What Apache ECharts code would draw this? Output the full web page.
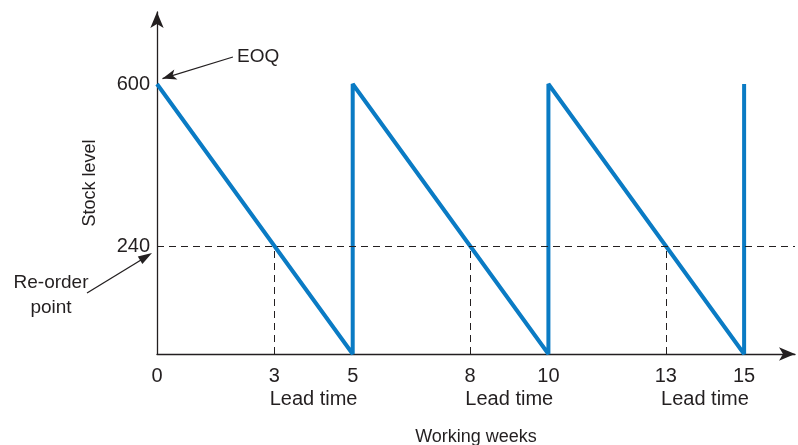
<!DOCTYPE html>
<html>
<head>
<meta charset="utf-8">
<script src="https://cdn.jsdelivr.net/npm/echarts@6/dist/echarts.min.js"></script>
<style>
    html, body { margin: 0; padding: 0; background: #fff; }
    #chart { width: 798px; height: 445px; }
</style>
</head>
<body>
<div id="chart"></div>
<script>
// stock level over working weeks (sawtooth)
var weeks = [0, 5, 5, 10, 10, 15, 15];
var stock = [600, 0, 600, 0, 600, 0, 600];
var weekTicks = [0, 3, 5, 8, 10, 13, 15];
var leadTimeMid = [4, 9, 14];
var reorderWeeks = [3, 8, 13];
var stockTicks = [240, 600];
var REORDER = 240;
var EOQ = 600;

const LINE_COLOR = '#0a7bc4';
const TEXT_COLOR = '#231f20';
const FONT = '"Liberation Sans", Arial, sans-serif';

var chart = echarts.init(document.getElementById('chart'));

var points = weeks.map(function (w, i) {
    return [w, stock[i]];
});

// dashed guides from the re-order point
var guides = [[{ coord: [0, REORDER] }, { coord: [16.3, REORDER] }]];
reorderWeeks.forEach(function (w) {
    guides.push([{ coord: [w, 0] }, { coord: [w, REORDER] }]);
});

var option = {
    animation: false,
    textStyle: { fontFamily: FONT, color: TEXT_COLOR },
    grid: { left: 157, right: 3, top: 12, bottom: 91, outerBoundsMode: 'none', containLabel: false },
    xAxis: [{
        type: 'value',
        min: 0,
        max: 16.3,
        name: 'Working weeks',
        nameLocation: 'middle',
        nameGap: 74,
        nameTextStyle: { fontSize: 18, color: TEXT_COLOR },
        axisLine: {
            lineStyle: { color: TEXT_COLOR, width: 1.3 },
            symbol: ['none', 'arrow'],
            symbolSize: [10, 16]
        },
        axisTick: { show: false },
        splitLine: { show: false },
        axisLabel: {
            customValues: weekTicks,
            fontSize: 20,
            color: TEXT_COLOR,
            margin: 12
        }
    }, {
        type: 'value',
        position: 'bottom',
        min: 0,
        max: 16.3,
        axisLine: { show: false },
        axisTick: { show: false },
        splitLine: { show: false },
        axisLabel: {
            customValues: leadTimeMid,
            formatter: function () { return 'Lead time'; },
            fontSize: 20,
            color: TEXT_COLOR,
            margin: 35
        }
    }],
    yAxis: {
        type: 'value',
        min: 0,
        max: 760,
        name: 'Stock level',
        nameLocation: 'middle',
        nameGap: 58,
        nameTextStyle: { fontSize: 18, color: TEXT_COLOR },
        axisLine: {
            show: true,
            lineStyle: { color: TEXT_COLOR, width: 1.3 },
            symbol: ['none', 'arrow'],
            symbolSize: [10, 16]
        },
        axisTick: { show: false },
        splitLine: { show: false },
        axisLabel: {
            customValues: stockTicks,
            fontSize: 20,
            color: TEXT_COLOR,
            margin: 7
        }
    },
    series: [{
        type: 'line',
        data: points,
        symbol: 'none',
        lineStyle: { color: LINE_COLOR, width: 4 },
        z: 3,
        markLine: {
            silent: true,
            symbol: 'none',
            label: { show: false },
            lineStyle: { color: TEXT_COLOR, width: 1, type: [7, 5] },
            data: guides
        }
    }, {
        // EOQ arrow
        type: 'line',
        data: [],
        markLine: {
            silent: true,
            symbol: ['none', 'arrow'],
            symbolSize: [8, 14],
            label: { show: false },
            lineStyle: { color: TEXT_COLOR, width: 1.3, type: 'solid' },
            data: [
                [{ coord: [1.94, 660] }, { coord: [0.14, EOQ + 12] }]
            ]
        }
    }],
    graphic: [{
        type: 'text',
        x: 237,
        y: 47,
        style: { text: 'EOQ', fontSize: 19, fill: TEXT_COLOR, fontFamily: FONT }
    }, {
        type: 'text',
        x: 51,
        y: 270,
        style: {
            text: 'Re-order\npoint',
            fontSize: 19,
            lineHeight: 25,
            align: 'center',
            fill: TEXT_COLOR,
            fontFamily: FONT
        }
    }, {
        // re-order point arrow (sits left of the axis, outside the grid)
        type: 'line',
        shape: { x1: 87, y1: 293, x2: 141, y2: 260 },
        style: { stroke: TEXT_COLOR, lineWidth: 1.3 }
    }, {
        type: 'polygon',
        shape: { points: [[152, 253], [142.4, 264], [137.8, 256.6]] },
        style: { fill: TEXT_COLOR }
    }]
};

chart.setOption(option);
</script>
</body>
</html>
